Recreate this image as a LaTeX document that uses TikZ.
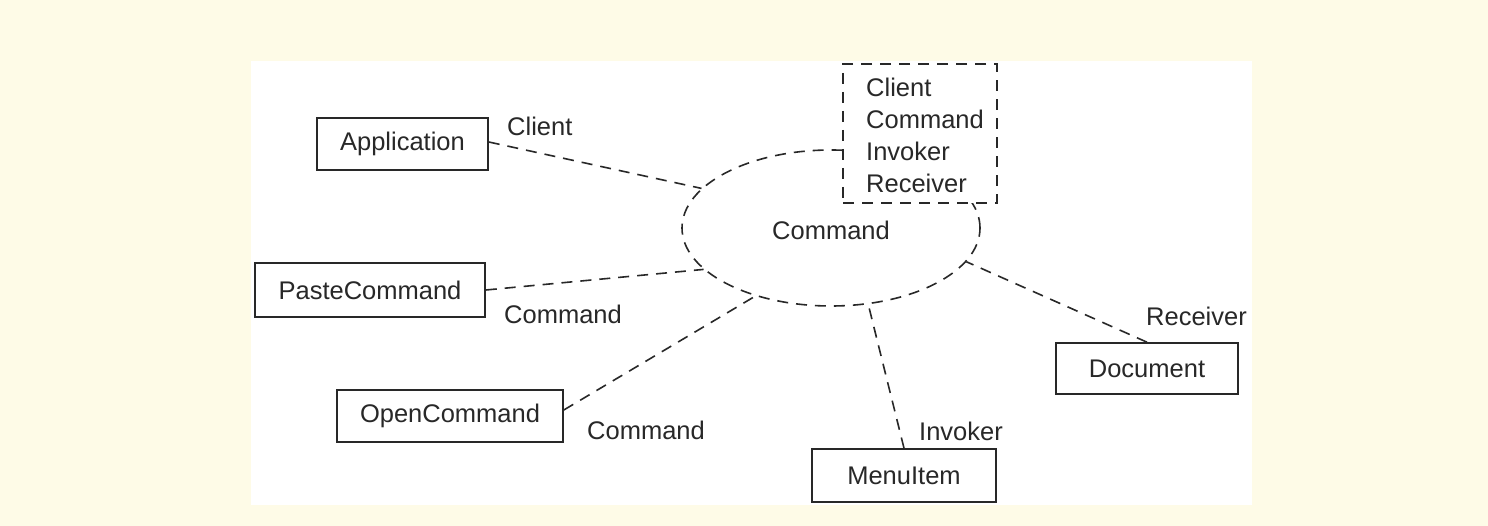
\documentclass[tikz,border=0pt]{standalone}
\usepackage{fontspec}
\setmainfont{Liberation Sans}
\usetikzlibrary{shapes.geometric}
\definecolor{cream}{RGB}{254,251,231}
\definecolor{ink}{RGB}{40,40,40}
\begin{document}
\begin{tikzpicture}[x=1pt,y=-1pt,
  every node/.style={font=\fontsize{25.5}{32}\selectfont, text=ink},
  cls/.style={draw=ink, line width=1.6pt, rectangle, inner sep=0pt, fill=white},
  dsh/.style={draw=ink, line width=1.6pt, dash pattern=on 11pt off 8pt},
  lbl/.style={inner sep=0pt}]
\useasboundingbox (0,0) rectangle (1488,526);
\fill[cream] (0,0) rectangle (1488,526);
\fill[white] (251,61) rectangle (1252,505);
% collaboration ellipse
\node[ellipse, dsh, minimum width=298pt, minimum height=156pt, inner sep=0pt] (ell) at (831,228) {};
\node[lbl] (elltext) at (831,230) {Command};
% roles box
\node[dsh, fill=white, rectangle, minimum width=154pt, minimum height=139pt, inner sep=0pt] (roles) at (920,133.5) {};
\node[lbl, align=left, anchor=west] (rolestext) at (866,135) {Client\\Command\\Invoker\\Receiver};
% classes
\node[cls, minimum width=171pt, minimum height=52pt] (app) at (402.5,144) {Application};
\node[cls, minimum width=230pt, minimum height=54pt] (paste) at (370,290) {PasteCommand};
\node[cls, minimum width=226pt, minimum height=52pt] (open) at (450,416) {OpenCommand};
\node[cls, minimum width=184pt, minimum height=53pt] (menu) at (904,475.5) {MenuItem};
\node[cls, minimum width=182pt, minimum height=51pt] (doc) at (1147,368.5) {Document};
% connectors
\draw[dsh] ([yshift=2pt]app.east) -- (ell.163);
\draw[dsh] (paste.east) -- (ell.198);
\draw[dsh] ([yshift=6pt]open.east) -- (ell.222);
\draw[dsh] (menu.north) -- (ell.296);
\draw[dsh] (doc.north) -- (ell.346);
% role labels
\node[lbl, anchor=west] (lclient) at (507,126) {Client};
\node[lbl, anchor=west] (lpaste) at (504,314) {Command};
\node[lbl, anchor=west] (lopen) at (587,430) {Command};
\node[lbl, anchor=west] (linvoker) at (919,431) {Invoker};
\node[lbl, anchor=west] (lreceiver) at (1146,316) {Receiver};
\end{tikzpicture}
\end{document}
